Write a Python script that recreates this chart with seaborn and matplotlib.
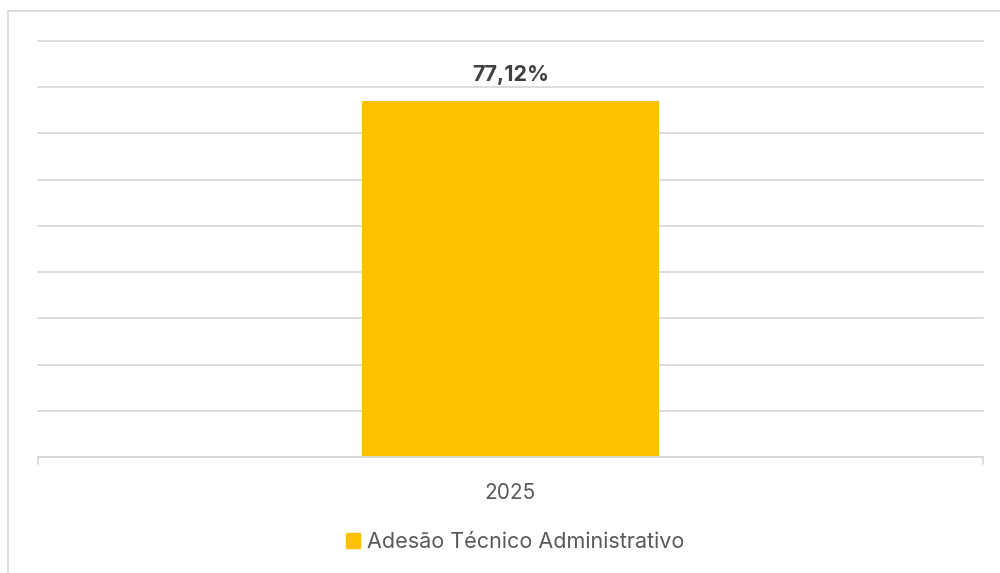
import matplotlib
matplotlib.use('Agg')
import matplotlib.pyplot as plt
import seaborn as sns
import pandas as pd
from matplotlib.patches import Rectangle

# Chart data
anos = ['2025']
adesao = [77.12]
serie = 'Adesão Técnico Administrativo'

data = pd.DataFrame({'Ano': anos, 'Adesao': adesao})

sns.set_theme(style='white')
plt.rcParams['font.family'] = ['Inter', 'DejaVu Sans']

fig = plt.figure(figsize=(10, 5.73), dpi=100)
ax = fig.add_axes([0.038, 1 - 457 / 573, 0.945, (457 - 41) / 573])

sns.barplot(x='Ano', y='Adesao', data=data, color='#FFC000', width=0.314,
            saturation=1, ax=ax, linewidth=0)

ax.set_ylim(0, 90)
ax.set_xlim(-0.5, 0.5)
ax.set_yticks(range(0, 91, 10))
ax.yaxis.grid(True, color='#D9D9D9', linewidth=1.3)
for gl in ax.get_ygridlines():
    gl.set_clip_on(False)
ax.set_axisbelow(True)
ax.tick_params(axis='y', left=False, labelleft=False)
ax.tick_params(axis='x', bottom=False, labelsize=15, colors='#595959', pad=13)
for s in ['top', 'right', 'left']:
    ax.spines[s].set_visible(False)
ax.spines['bottom'].set_color('#D9D9D9')
ax.spines['bottom'].set_linewidth(1.3)
ax.set_xlabel('')
ax.set_ylabel('')

# small end ticks on the category axis
for xe in [-0.5, 0.5]:
    ax.plot([xe, xe], [0, -1.5], color='#D9D9D9', lw=1.3, clip_on=False)

# data labels
for i, v in enumerate(adesao):
    ax.text(i, v + 3.4, f'{v:.2f}'.replace('.', ',') + '%', ha='center', va='bottom',
            fontsize=15.5, fontweight='bold', color='#404040')

leg = fig.legend(handles=[Rectangle((0, 0), 1, 1, color='#FFC000')], labels=[serie],
                 loc='center', bbox_to_anchor=(0.515, 1 - 542 / 573), frameon=False,
                 fontsize=15.5, handlelength=0.65, handleheight=0.65, handletextpad=0.3)
for t in leg.get_texts():
    t.set_color('#595959')

# chart border
fig.patches.append(Rectangle((8 / 1000, -0.1), 1.2, 1 - 11 / 573 + 0.1, transform=fig.transFigure,
                             fill=False, edgecolor='#D9D9D9', linewidth=1.3))

fig.savefig('out.png', dpi=100, facecolor='white')
